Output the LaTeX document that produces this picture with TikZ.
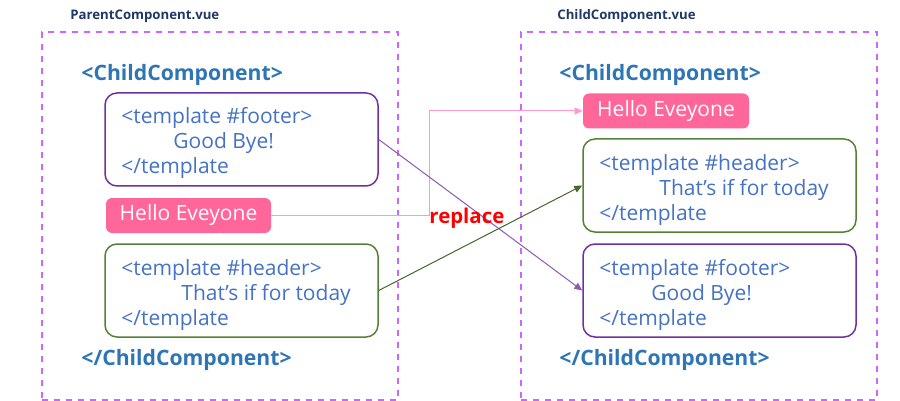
\documentclass[tikz,border=0pt]{standalone}
\usepackage{fontspec}
\setmainfont{Open Sans}
\usetikzlibrary{arrows.meta}
\definecolor{navy}{HTML}{1F3864}
\definecolor{cblue}{HTML}{2E75B6}
\definecolor{tblue}{HTML}{4472C4}
\definecolor{purp}{HTML}{7030A0}
\definecolor{grn}{HTML}{548235}
\definecolor{pinkfill}{HTML}{FF6699}
\definecolor{pinkline}{HTML}{FF99CC}
\definecolor{dashc}{HTML}{CC66FF}
\begin{document}
\begin{tikzpicture}[x=0.5pt,y=-0.5pt,
  frame/.style={draw=dashc, dashed, line width=0.6pt},
  slotbox/.style={draw, rounded corners=6pt, line width=0.75pt, minimum width=136.5pt, minimum height=46.5pt, inner sep=0pt},
  code/.style={text=tblue, font=\fontsize{10.5}{12}\selectfont, anchor=west, inner sep=0pt},
  tag/.style={text=cblue, font=\bfseries\fontsize{10.6}{13}\selectfont, anchor=west, inner sep=0pt},
  title/.style={text=navy, font=\bfseries\fontsize{6.6}{9}\selectfont, anchor=west, inner sep=0pt},
  hello/.style={fill=pinkfill, text=white, rounded corners=3pt, font=\fontsize{10.5}{12}\selectfont, minimum height=17.5pt, inner sep=0pt},
  conn/.style={line width=0.5pt, -{Triangle[length=4pt,width=3.5pt]}}
]
\useasboundingbox (0,0) rectangle (900,401);
% frames
\node[frame, minimum width=178pt, minimum height=184pt, inner sep=0pt] (frameL) at (220,216) {};
\node[frame, minimum width=178pt, minimum height=184pt, inner sep=0pt] (frameR) at (699,216) {};
\node[title] (titleL) at (70,16) {ParentComponent.vue};
\node[title] (titleR) at (557,16) {ChildComponent.vue};
% left
\node[tag] (openL) at (81,75) {<ChildComponent>};
\node[slotbox, draw=purp] (footL) at (241.5,139.5) {};
\node[code] (fL1) at (121,118) {<template \#footer>};
\node[code] (fL2) at (173,143) {Good Bye!};
\node[code] (fL3) at (121,168) {</template};
\node[hello, minimum width=82.5pt] (helloL) at (188.5,215.5) {Hello Eveyone};
\node[slotbox, draw=grn] (headL) at (241.5,290.5) {};
\node[code] (hL1) at (121,270) {<template \#header>};
\node[code] (hL2) at (181,295) {That’s if for today};
\node[code] (hL3) at (121,320) {</template};
\node[tag] (closeL) at (81,360) {</ChildComponent>};
% right
\node[tag] (openR) at (559,75) {<ChildComponent>};
\node[hello, minimum width=83pt] (helloR) at (666,111) {Hello Eveyone};
\node[slotbox, draw=grn] (headR) at (719.5,185.5) {};
\node[code] (hR1) at (599,165) {<template \#header>};
\node[code] (hR2) at (659,190) {That’s if for today};
\node[code] (hR3) at (599,215) {</template};
\node[slotbox, draw=purp] (footR) at (719.5,290.5) {};
\node[code] (fR1) at (599,270) {<template \#footer>};
\node[code] (fR2) at (651,295) {Good Bye!};
\node[code] (fR3) at (599,320) {</template};
\node[tag] (closeR) at (559,360) {</ChildComponent>};
% connectors
\coordinate (bend) at (429,215.5);
\draw[conn, draw=pinkline] (helloL.east) -- (bend) |- (helloR.west);
\draw[conn, draw=purp!80] (footL.east) -- (footR.west);
\draw[conn, draw=grn!80!black] (headL.east) -- (headR.west);
\node[text=red, font=\bfseries\fontsize{10.2}{13}\selectfont, anchor=west, inner sep=0pt] (repl) at (429,218) {replace};
\end{tikzpicture}
\end{document}
